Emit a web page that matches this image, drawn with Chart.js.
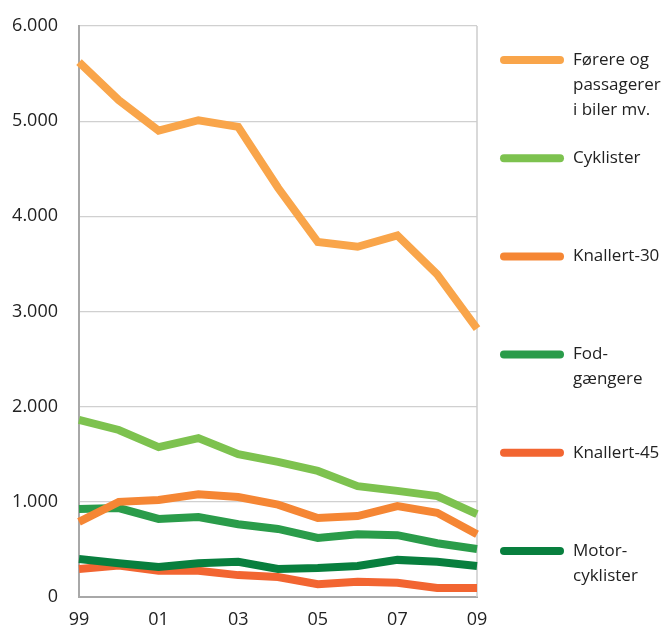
<!DOCTYPE html>
<html>
<head>
<meta charset="utf-8">
<script src="https://cdn.jsdelivr.net/npm/chart.js@4"></script>
<style>
  html, body { margin: 0; padding: 0; background: #fff; }
  #wrap { width: 663px; height: 633px; position: relative; }
</style>
</head>
<body>
<div id="wrap"><canvas id="myChart" width="663" height="633"></canvas></div>
<script>
// Years on the x axis (two-digit labels)
const years = ['99', '00', '01', '02', '03', '04', '05', '06', '07', '08', '09'];

// Injured per road user group
const forere = [5620, 5220, 4900, 5010, 4940, 4300, 3730, 3680, 3800, 3390, 2820];
const cyklister = [1860, 1755, 1575, 1670, 1500, 1420, 1325, 1165, 1115, 1060, 870];
const knallert30 = [790, 1000, 1020, 1080, 1050, 970, 830, 850, 955, 885, 660];
const fodgaengere = [925, 935, 820, 840, 765, 715, 620, 660, 650, 565, 505];
const knallert45 = [295, 330, 275, 275, 230, 210, 135, 160, 150, 95, 95];
const motorcyklister = [400, 355, 315, 355, 370, 295, 305, 325, 390, 370, 325];

const yTicks = [0, 1000, 2000, 3000, 4000, 5000, 6000];

// Legend labels, split into lines
const legendLabels = [
  ['Førere og', 'passagerer', 'i biler mv.'],
  ['Cyklister'],
  ['Knallert-30'],
  ['Fod-', 'gængere'],
  ['Knallert-45'],
  ['Motor-', 'cyklister']
];

const colors = ['#F9A54A', '#7DC24F', '#F58634', '#2A9C4A', '#F26531', '#087F3E'];
const series = [forere, cyklister, knallert30, fodgaengere, knallert45, motorcyklister];

const FONT = '"Open Sans", "Noto Sans", sans-serif';

// Frame: right border line
const framePlugin = {
  id: 'frame',
  beforeDatasetsDraw(chart) {
    const a = chart.chartArea;
    const c = chart.ctx;
    c.save();
    c.strokeStyle = '#cccccc';
    c.lineWidth = 1.5;
    c.beginPath();
    c.moveTo(a.right, a.top);
    c.lineTo(a.right, a.bottom);
    c.stroke();
    c.restore();
  }
};

// Legend drawn to the right of the plot
const sideLegend = {
  id: 'sideLegend',
  afterDraw(chart) {
    const c = chart.ctx;
    const x0 = 504, x1 = 560, tx = 573;
    const top = 60, step = 98.2, lineH = 25;
    c.save();
    chart.data.datasets.forEach((ds, i) => {
      const y = top + i * step;
      c.strokeStyle = ds.borderColor;
      c.lineWidth = 8;
      c.lineCap = 'round';
      c.beginPath();
      c.moveTo(x0, y);
      c.lineTo(x1, y);
      c.stroke();
      c.fillStyle = '#222';
      c.font = '17px ' + FONT;
      c.textBaseline = 'middle';
      c.textAlign = 'left';
      legendLabels[i].forEach((t, j) => c.fillText(t, tx, y + j * lineH));
    });
    c.restore();
  }
};

const datasets = series.map((d, i) => ({
  label: legendLabels[i].join(' '),
  data: d,
  borderColor: colors[i],
  backgroundColor: colors[i],
  borderWidth: 8,
  pointRadius: 0,
  tension: 0,
  order: [6, 5, 3, 4, 2, 1][i]
}));

const ctx = document.getElementById('myChart').getContext('2d');
new Chart(ctx, {
  type: 'line',
  data: { labels: years, datasets: datasets },
  options: {
    responsive: false,
    animation: false,
    layout: { padding: { top: 26, right: 186, bottom: 0, left: 0 } },
    plugins: { legend: { display: false }, tooltip: { enabled: false } },
    scales: {
      x: {
        grid: { display: false, drawTicks: false },
        border: { display: true, color: '#a8a8a8', width: 2 },
        ticks: {
          autoSkip: false,
          maxRotation: 0,
          padding: 12,
          color: '#222',
          font: { family: FONT, size: 18 },
          callback: (v, i) => (i % 2 === 0 ? years[i] : '')
        },
        afterFit: (s) => { s.height = 36; s.paddingLeft = 0; s.paddingRight = 0; }
      },
      y: {
        min: 0,
        max: 6000,
        afterBuildTicks: (s) => { s.ticks = yTicks.map(v => ({ value: v })); },
        grid: { color: '#d0d0d0', lineWidth: 1.2, drawTicks: false },
        border: { display: true, color: '#a8a8a8', width: 2 },
        ticks: {
          padding: 21,
          color: '#222',
          font: { family: FONT, size: 18 },
          callback: (v) => (v === 0 ? '0' : v.toLocaleString('de-DE'))
        },
        afterFit: (s) => { s.width = 79; s.paddingTop = 0; s.paddingBottom = 0; }
      }
    }
  },
  plugins: [framePlugin, sideLegend]
});
</script>
</body>
</html>
